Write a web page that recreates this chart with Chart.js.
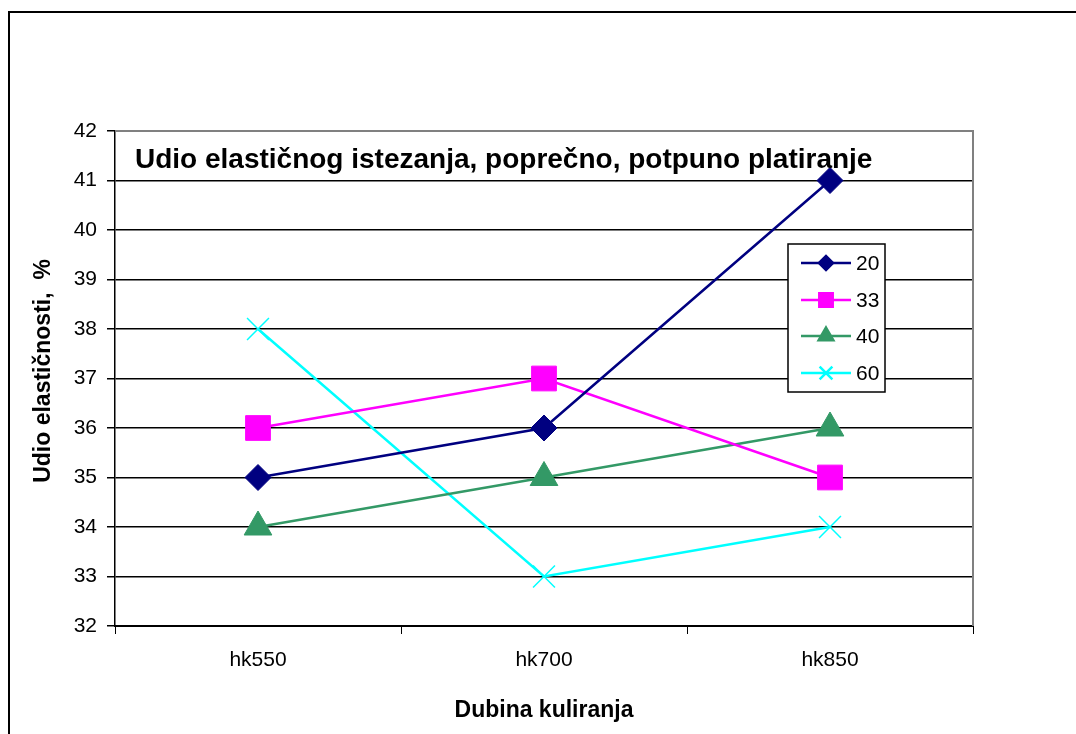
<!DOCTYPE html>
<html>
<head>
<meta charset="utf-8">
<script src="https://cdn.jsdelivr.net/npm/chart.js@4/dist/chart.umd.min.js"></script>
<style>
  body { margin: 0; background: #fff; }
  #wrap { width: 1076px; height: 734px; }
</style>
</head>
<body>
<div id="wrap"><canvas id="chart" width="1076" height="734"></canvas></div>
<script>
// podaci
const categories = ['hk550', 'hk700', 'hk850'];
const seriesNames = ['20', '33', '40', '60'];
const s20 = [35, 36, 41];
const s33 = [36, 37, 35];
const s40 = [34, 35, 36];
const s60 = [38, 33, 34];
const yMin = 32;
const yMax = 42;

const chartTitle = 'Udio elastičnog istezanja, poprečno, potpuno platiranje';
const yTitle = 'Udio elastičnosti,  %';
const xTitle = 'Dubina kuliranja';

const FONT = '"Liberation Sans", Arial, sans-serif';

const styles = [
  { color: '#000080', pointStyle: 'rectRot', radius: 13, legendRadius: 7 },
  { color: '#FF00FF', pointStyle: 'rect', radius: 17.5, legendRadius: 9.5 },
  { color: '#339966', pointStyle: 'triangle', radius: 16, legendRadius: 8.5 },
  { color: '#00FFFF', pointStyle: 'crossRot', radius: 15.5, legendRadius: 9 }
];

const datasets = [s20, s33, s40, s60].map((values, i) => ({
  label: seriesNames[i],
  data: values,
  borderColor: styles[i].color,
  backgroundColor: styles[i].color,
  borderWidth: 2.5,
  tension: 0,
  pointStyle: styles[i].pointStyle,
  pointRadius: styles[i].radius,
  pointHoverRadius: styles[i].radius,
  pointBorderWidth: i === 3 ? 1.5 : 1,
  pointBorderColor: styles[i].color,
  pointBackgroundColor: styles[i].color
}));

// Okvir, naslov, legenda i naslovi osi
const decorPlugin = {
  id: 'decor',
  afterDraw(chart) {
    const ctx = chart.ctx;
    const area = chart.chartArea;
    ctx.save();

    // vanjski okvir
    ctx.strokeStyle = '#000';
    ctx.lineWidth = 2;
    ctx.strokeRect(9, 12, 1200, 1200);

    // sivi okvir plohe (gore i desno)
    ctx.strokeStyle = '#808080';
    ctx.lineWidth = 2;
    ctx.beginPath();
    ctx.moveTo(area.left, area.top);
    ctx.lineTo(area.right, area.top);
    ctx.lineTo(area.right, area.bottom);
    ctx.stroke();

    // naslov unutar plohe
    ctx.fillStyle = '#000';
    ctx.font = 'bold 28px ' + FONT;
    ctx.textAlign = 'left';
    ctx.textBaseline = 'middle';
    ctx.fillText(chartTitle, 135, 160);

    // naslovi osi
    ctx.font = 'bold 23px ' + FONT;
    ctx.textAlign = 'center';
    ctx.fillText(xTitle, (area.left + area.right) / 2, 711);
    ctx.save();
    ctx.translate(44, 371);
    ctx.rotate(-Math.PI / 2);
    ctx.fillText(yTitle, 0, 0);
    ctx.restore();

    // legenda
    const lx = 788, ly = 244, lw = 97, lh = 148;
    ctx.fillStyle = '#fff';
    ctx.fillRect(lx, ly, lw, lh);
    ctx.strokeStyle = '#000';
    ctx.lineWidth = 1.5;
    ctx.strokeRect(lx, ly, lw, lh);
    const rowsY = [263, 300, 336, 373];
    seriesNames.forEach((name, i) => {
      const y = rowsY[i];
      ctx.strokeStyle = styles[i].color;
      ctx.lineWidth = 2.5;
      ctx.beginPath();
      ctx.moveTo(801, y);
      ctx.lineTo(851, y);
      ctx.stroke();
      ctx.fillStyle = styles[i].color;
      ctx.strokeStyle = styles[i].color;
      Chart.helpers.drawPoint(ctx, {
        pointStyle: styles[i].pointStyle,
        radius: styles[i].legendRadius,
        rotation: 0,
        borderWidth: i === 3 ? 1.5 : 1
      }, 826, y);
      ctx.fillStyle = '#000';
      ctx.font = '21px ' + FONT;
      ctx.textAlign = 'left';
      ctx.textBaseline = 'middle';
      ctx.fillText(name, 856, y + 1);
    });

    ctx.restore();
  }
};

new Chart(document.getElementById('chart'), {
  type: 'line',
  data: { labels: categories, datasets: datasets },
  options: {
    responsive: false,
    animation: false,
    layout: { padding: { top: 131, right: 103, left: 0, bottom: 0 } },
    plugins: {
      legend: { display: false },
      title: { display: false },
      tooltip: { enabled: false }
    },
    scales: {
      x: {
        offset: true,
        afterFit(scale) { scale.height = 108; },
        grid: {
          offset: true,
          drawOnChartArea: false,
          drawTicks: true,
          tickLength: 8,
          color: '#000',
          tickColor: '#000'
        },
        border: { display: true, color: '#000', width: 2 },
        ticks: { color: '#000', font: { family: FONT, size: 21 }, padding: 14, maxRotation: 0 }
      },
      y: {
        min: yMin,
        max: yMax,
        afterFit(scale) { scale.width = 115; },
        grid: {
          color: (c) => (c.tick && c.tick.value === yMax ? 'rgba(0,0,0,0)' : '#000'),
          tickColor: '#000',
          lineWidth: 1.5,
          drawTicks: true,
          tickLength: 8
        },
        border: { display: true, color: '#000', width: 1.5 },
        ticks: { stepSize: 1, color: '#000', font: { family: FONT, size: 21 }, padding: 10 }
      }
    }
  },
  plugins: [decorPlugin]
});
</script>
</body>
</html>
